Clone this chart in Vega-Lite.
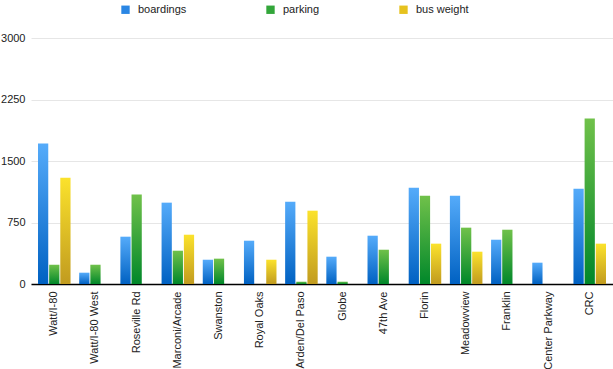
{
  "$schema": "https://vega.github.io/schema/vega-lite/v6.json",
  "autosize": {"type": "none"},
  "width": 582,
  "height": 246,
  "padding": {"left": 31, "top": 38, "right": 0, "bottom": 85},
  "background": "white",
  "config": {
    "font": "Liberation Sans",
    "view": {"stroke": null},
    "axis": {"labelFont": "Liberation Sans", "labelFontSize": 11, "labelColor": "#222"}
  },
  "data": {
    "values": [
      {"station": "Watt/I-80", "series": "boardings", "value": 1712},
      {"station": "Watt/I-80", "series": "parking", "value": 235},
      {"station": "Watt/I-80", "series": "bus weight", "value": 1297},
      {"station": "Watt/I-80 West", "series": "boardings", "value": 138},
      {"station": "Watt/I-80 West", "series": "parking", "value": 235},
      {"station": "Roseville Rd", "series": "boardings", "value": 577},
      {"station": "Roseville Rd", "series": "parking", "value": 1090},
      {"station": "Marconi/Arcade", "series": "boardings", "value": 992},
      {"station": "Marconi/Arcade", "series": "parking", "value": 406},
      {"station": "Marconi/Arcade", "series": "bus weight", "value": 601},
      {"station": "Swanston", "series": "boardings", "value": 296},
      {"station": "Swanston", "series": "parking", "value": 309},
      {"station": "Royal Oaks", "series": "boardings", "value": 528},
      {"station": "Royal Oaks", "series": "bus weight", "value": 296},
      {"station": "Arden/Del Paso", "series": "boardings", "value": 1004},
      {"station": "Arden/Del Paso", "series": "parking", "value": 28},
      {"station": "Arden/Del Paso", "series": "bus weight", "value": 894},
      {"station": "Globe", "series": "boardings", "value": 333},
      {"station": "Globe", "series": "parking", "value": 28},
      {"station": "47th Ave", "series": "boardings", "value": 589},
      {"station": "47th Ave", "series": "parking", "value": 418},
      {"station": "Florin", "series": "boardings", "value": 1175},
      {"station": "Florin", "series": "parking", "value": 1077},
      {"station": "Florin", "series": "bus weight", "value": 492},
      {"station": "Meadowview", "series": "boardings", "value": 1077},
      {"station": "Meadowview", "series": "parking", "value": 687},
      {"station": "Meadowview", "series": "bus weight", "value": 394},
      {"station": "Franklin", "series": "boardings", "value": 540},
      {"station": "Franklin", "series": "parking", "value": 662},
      {"station": "Center Parkway", "series": "boardings", "value": 260},
      {"station": "CRC", "series": "boardings", "value": 1163},
      {"station": "CRC", "series": "parking", "value": 2017},
      {"station": "CRC", "series": "bus weight", "value": 492}
    ]
  },
  "encoding": {
    "x": {
      "field": "station", "type": "nominal", "sort": null, "title": null,
      "scale": {"paddingInner": 0.21, "paddingOuter": 0.17},
      "axis": {"labelAngle": -90, "ticks": false, "domainColor": "#000", "domainWidth": 1.5, "labelPadding": 7, "grid": false}
    },
    "xOffset": {"field": "series", "type": "nominal", "scale": {"domain": ["boardings", "parking", "bus weight"], "paddingInner": 0.08}},
    "y": {
      "field": "value", "type": "quantitative", "title": null,
      "scale": {"domain": [0, 3000]},
      "axis": {"values": [0, 750, 1500, 2250, 3000], "format": "d", "domain": false, "ticks": false, "gridColor": "#e6e6e6", "labelPadding": 6}
    }
  },
  "layer": [
    {
      "mark": {"type": "bar", "opacity": 0},
      "encoding": {
        "color": {
          "field": "series", "type": "nominal",
          "scale": {"domain": ["boardings", "parking", "bus weight"], "range": ["#2a86e4", "#32a63a", "#e6c21f"]},
          "legend": {
            "title": null, "orient": "none", "direction": "horizontal",
            "legendX": 89, "legendY": -34,
            "symbolType": "square", "symbolSize": 70, "symbolOpacity": 1, "symbolStrokeWidth": 0,
            "labelFontSize": 11, "labelColor": "#222", "labelFont": "Liberation Sans",
            "columnPadding": 78, "labelOffset": 7
          }
        }
      }
    },
    {
      "transform": [{"filter": "datum.series === 'boardings'"}],
      "mark": {"type": "bar", "color": {"gradient": "linear", "x1": 0, "y1": 0, "x2": 0, "y2": 1,
        "stops": [{"offset": 0, "color": "#55abfa"}, {"offset": 1, "color": "#0061c2"}]}}
    },
    {
      "transform": [{"filter": "datum.series === 'parking'"}],
      "mark": {"type": "bar", "color": {"gradient": "linear", "x1": 0, "y1": 0, "x2": 0, "y2": 1,
        "stops": [{"offset": 0, "color": "#70c14a"}, {"offset": 1, "color": "#00872a"}]}}
    },
    {
      "transform": [{"filter": "datum.series === 'bus weight'"}],
      "mark": {"type": "bar", "color": {"gradient": "linear", "x1": 0, "y1": 0, "x2": 0, "y2": 1,
        "stops": [{"offset": 0, "color": "#fbe22c"}, {"offset": 1, "color": "#c19b1f"}]}}
    }
  ]
}
